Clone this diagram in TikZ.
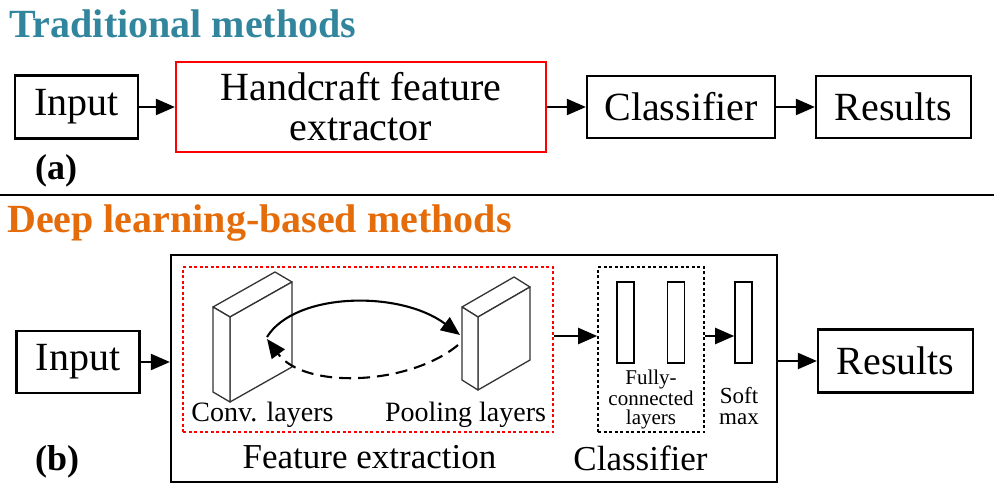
\documentclass[tikz,border=0pt]{standalone}
\usepackage{fontspec}
\setmainfont{Liberation Serif}
\usetikzlibrary{arrows.meta}
\definecolor{tradteal}{HTML}{31859C}
\definecolor{deeporange}{HTML}{E46C0A}

\begin{document}
\begin{tikzpicture}[
      % 以像素为单位，y 轴向下
      x=1pt,
      y=-1pt,
      >={Triangle[length=19pt,width=16pt]},
      line join=miter,
      box/.style={draw, line width=2.2pt, inner sep=0pt,
        font=\rmfamily\fontsize{40}{40}\selectfont},
      bar/.style={draw, line width=1.6pt, inner sep=0pt,
        minimum width=17pt, minimum height=81pt},
      group/.style={draw, line width=1.6pt, inner sep=0pt,
        dash pattern=on 3pt off 2.5pt},
      layer/.style={draw=black!80, line width=1.3pt, line join=round, fill=white},
      conn/.style={->, line width=2.1pt},
      title/.style={anchor=base west, inner sep=0pt,
        font=\rmfamily\bfseries\fontsize{40}{40}\selectfont},
      tag/.style={anchor=base west, inner sep=0pt,
        font=\rmfamily\bfseries\fontsize{36}{36}\selectfont},
      caption/.style={anchor=base, inner sep=0pt,
        font=\rmfamily\fontsize{35}{35}\selectfont},
    ]
    \useasboundingbox (0,0) rectangle (994,500);

    % (a) 传统方法
    \node[title, text=tradteal] (tradtitle) at (9,38) {Traditional methods};
    \node[box, minimum width=123pt, minimum height=63pt] (inA) at (76.5,107) {Input};
    \node[box, draw=red, minimum width=370pt, minimum height=90pt, align=center]
      (hand) at (361,107) {Handcraft feature\\extractor};
    \node[box, minimum width=188pt, minimum height=62pt] (clsA) at (681,107) {Classifier};
    \node[box, minimum width=155pt, minimum height=62pt] (resA) at (893.5,107) {Results};
    \node[tag] (labA) at (35,180) {(a)};

    \draw[conn] (inA) -- (hand);
    \draw[conn] (hand) -- (clsA);
    \draw[conn] (clsA) -- (resA);

    % 分隔线
    \draw[line width=2.2pt] (0,195) -- (994,195);

    % (b) 深度学习方法
    \node[title, text=deeporange] (deeptitle) at (7,233) {Deep learning-based methods};
    \node[box, minimum width=123pt, minimum height=62pt] (inB) at (78,362) {Input};
    \node[draw, line width=2.2pt, inner sep=0pt, minimum width=606pt, minimum height=227pt]
      (deep) at (474,368.5) {};
    \node[box, minimum width=155pt, minimum height=63pt] (resB) at (895.5,361) {Results};
    \node[tag] (labB) at (35,470) {(b)};

    % 特征提取部分（红色虚线框）
    \node[group, draw=red, minimum width=370pt, minimum height=165pt] (feat) at (368,349.5) {};

    % 卷积层
    \coordinate (cA) at (213,307);
    \coordinate (cB) at (275,272);
    \coordinate (cC) at (292,282);
    \coordinate (cD) at (230,317);
    \coordinate (cE) at (292,367);
    \coordinate (cF) at (230,402);
    \coordinate (cG) at (213,392);
    \draw[layer] (cA) -- (cB) -- (cC) -- (cD) -- cycle;
    \draw[layer] (cD) -- (cC) -- (cE) -- (cF) -- cycle;
    \draw[layer] (cA) -- (cD) -- (cF) -- (cG) -- cycle;

    % 池化层
    \coordinate (pA) at (462,307);
    \coordinate (pB) at (514,277);
    \coordinate (pC) at (530,287);
    \coordinate (pD) at (478,317);
    \coordinate (pE) at (530,360);
    \coordinate (pF) at (478,390);
    \coordinate (pG) at (462,380);
    \draw[layer] (pA) -- (pB) -- (pC) -- (pD) -- cycle;
    \draw[layer] (pD) -- (pC) -- (pE) -- (pF) -- cycle;
    \draw[layer] (pA) -- (pD) -- (pF) -- (pG) -- cycle;

    % 两层之间的往返箭头
    \coordinate (convOut) at (267,337);
    \coordinate (poolIn)  at (460,335);
    \coordinate (poolOut) at (458,345);
    \coordinate (convIn)  at (267,339);
    \draw[conn]
      (convOut) .. controls (295,292) and (400,290) .. (poolIn);
    \draw[conn, dash pattern=on 12pt off 7pt]
      (poolOut) .. controls (410,385) and (305,390) .. (convIn);

    \node[anchor=base, inner sep=0pt, font=\rmfamily\fontsize{28}{28}\selectfont]
      (convlbl) at (262.5,421.7) {Conv. layers};
    \node[anchor=base, inner sep=0pt, font=\rmfamily\fontsize{28}{28}\selectfont]
      (poollbl) at (465.5,421.7) {Pooling layers};
    \node[caption] (featlbl) at (369.5,468) {Feature extraction};

    % 分类器部分
    \node[group, minimum width=106pt, minimum height=165pt] (fcbox) at (651,349.5) {};
    \node[bar] (fc1) at (625.5,322.5) {};
    \node[bar] (fc2) at (676,322.5) {};
    \node[bar] (soft) at (743.5,322.5) {};
    % 多行文字的 base 取最后一行的基线
    \node[anchor=base, inner sep=0pt, align=center, font=\rmfamily\fontsize{21}{19}\selectfont]
      (fclbl) at (651,424) {Fully-\\connected\\layers};
    \node[anchor=base, inner sep=0pt, align=center, font=\rmfamily\fontsize{23}{21}\selectfont]
      (softlbl) at (739,424) {Soft\\max};
    \node[caption] (clslbl) at (640.5,470) {Classifier};

    % 连接箭头
    \coordinate (lvl) at (0,336);
    \draw[conn] (inB) -- (inB -| deep.west);
    \draw[conn] (feat.east |- lvl) -- (fcbox.west |- lvl);
    \draw[conn] (fcbox.east |- lvl) -- (soft.west |- lvl);
    \draw[conn] (deep.east |- resB) -- (resB);

    \end{tikzpicture}
\end{document}
